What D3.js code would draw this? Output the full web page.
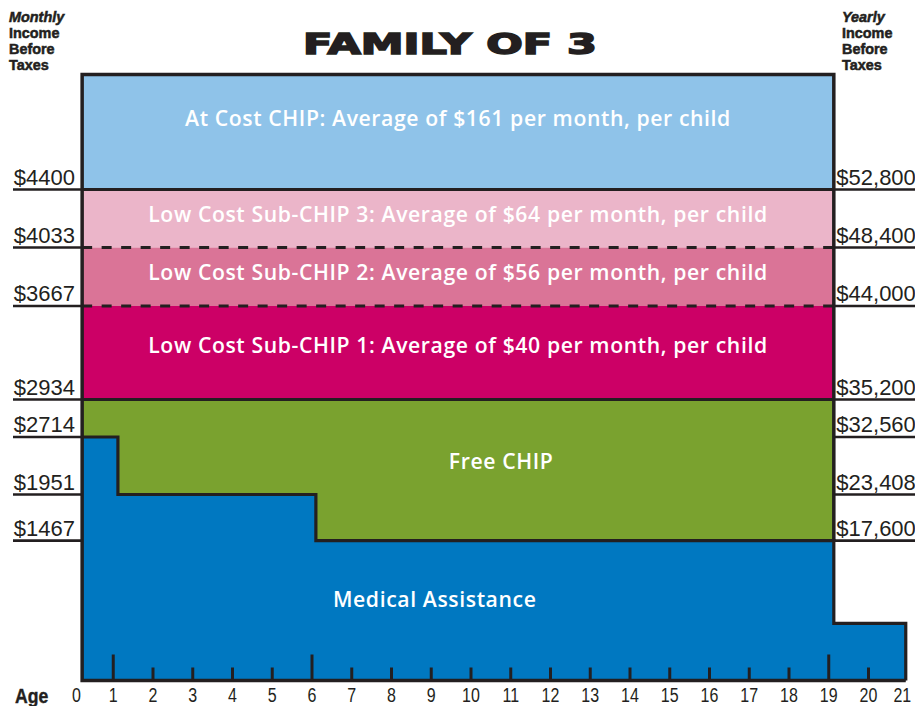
<!DOCTYPE html>
<html><head><meta charset="utf-8">
<script src="https://cdn.jsdelivr.net/npm/d3@7"></script>
<style>body{margin:0;background:#fff} svg{display:block}</style>
</head><body>
<svg id="c" width="915" height="706"></svg>
<script>
// ---------- data ----------
const title = "FAMILY OF 3";
const ageTicks = d3.range(0, 22);
const longTickAges = [1, 6, 19];
const monthlyValues = [4400, 4033, 3667, 2934, 2714, 1951, 1467];
const monthlyLabels = ["$4400", "$4033", "$3667", "$2934", "$2714", "$1951", "$1467"];
const yearlyLabels = ["$52,800", "$48,400", "$44,000", "$35,200", "$32,560", "$23,408", "$17,600"];

const bandText = [
  "At Cost CHIP: Average of $161 per month, per child",
  "Low Cost Sub-CHIP 3: Average of $64 per month, per child",
  "Low Cost Sub-CHIP 2: Average of $56 per month, per child",
  "Low Cost Sub-CHIP 1: Average of $40 per month, per child"
];
const bandHigh = [5100, 4400, 4033, 3667];
const bandLow = [4400, 4033, 3667, 2934];
const bandLabelIncome = [4788, 4194, 3830, 3299];

const chipStartAge = 0.23, chipEndAge = 19.14;
const freeChipTop = 2934;
const medAges = [0.23, 1.13, 6.11, 19.14, 20.95];
const medLimits = [2714, 1951, 1467, 600, 600];
const freeLabel = {text: "Free CHIP", age: 10.77, income: 2289};
const medLabel = {text: "Medical Assistance", age: 9.1, income: 768};
const leftHead = ["Monthly", "Income", "Before", "Taxes"];
const rightHead = ["Yearly", "Income", "Before", "Taxes"];

// ---------- layout / style ----------
const W = 915, H = 706;
const dark = "#231f20";
const bandColors = ["#8fc3e9", "#ebb5c9", "#da7497", "#cc0066"];
const bandBottomDashed = [false, true, true, false];
const green = "#7aa22f", blue = "#0078c1";
const yDomain = [0, 1951, 2714, 2934, 3667, 4033, 4400, 5100];
const yRange = [680.5, 494.5, 437, 399.5, 306, 247.5, 189.5, 74.5];
const condense = 0.8;

const svg = d3.select("#c");
const x = d3.scaleLinear().domain([0, 21]).range([73, 907.75]);
const y = d3.scaleLinear().domain(yDomain).range(yRange);

const x0 = x(chipStartAge), x1 = x(chipEndAge);

// bands
svg.append("g").selectAll("rect").data(bandText).join("rect")
  .attr("x", x0).attr("width", x1 - x0)
  .attr("y", (d, i) => y(bandHigh[i]))
  .attr("height", (d, i) => y(bandLow[i]) - y(bandHigh[i]))
  .attr("fill", (d, i) => bandColors[i]);

// free CHIP
svg.append("rect").attr("x", x0).attr("width", x1 - x0)
  .attr("y", y(freeChipTop)).attr("height", y(0) - y(freeChipTop))
  .attr("fill", green);

// medical assistance area
const medPts = medAges.map((a, i) => [a, medLimits[i]]);
svg.append("path").datum(medPts)
  .attr("d", d3.area().x(d => x(d[0])).y1(d => y(d[1])).y0(y(0)).curve(d3.curveStepAfter))
  .attr("fill", blue);

// separators across bands
svg.append("g").selectAll("line").data(bandLow).join("line")
  .attr("x1", x0).attr("x2", x1)
  .attr("y1", d => y(d)).attr("y2", d => y(d))
  .attr("stroke", dark).attr("stroke-width", 3)
  .attr("stroke-dasharray", (d, i) => bandBottomDashed[i] ? "10,9.5" : null);

// medical outline
const outlinePts = medPts.concat([[medAges[medAges.length - 1], 0]]);
svg.append("path").datum(outlinePts)
  .attr("d", d3.line().x(d => x(d[0])).y(d => y(d[1])).curve(d3.curveStepAfter))
  .attr("fill", "none").attr("stroke", dark).attr("stroke-width", 3.2)
  .attr("stroke-linejoin", "miter");

// frame: top, left, right, bottom
const frame = d3.path();
frame.moveTo(x1, y(1467)); frame.lineTo(x1, y(bandHigh[0]));
frame.lineTo(x0, y(bandHigh[0])); frame.lineTo(x0, y(0));
frame.lineTo(x(medAges[medAges.length - 1]), y(0));
svg.append("path").attr("d", frame.toString())
  .attr("fill", "none").attr("stroke", dark).attr("stroke-width", 3.5)
  .attr("stroke-linejoin", "miter");

// label underlines
svg.append("g").selectAll("line").data(monthlyValues).join("line")
  .attr("x1", 13).attr("x2", x0).attr("y1", d => y(d)).attr("y2", d => y(d))
  .attr("stroke", dark).attr("stroke-width", 2.6);
svg.append("g").selectAll("line").data(monthlyValues).join("line")
  .attr("x1", x1).attr("x2", W).attr("y1", d => y(d)).attr("y2", d => y(d))
  .attr("stroke", dark).attr("stroke-width", 2.6);

// value labels
const valueFont = "'Liberation Sans', Arial, sans-serif";
svg.append("g").selectAll("text").data(monthlyLabels).join("text")
  .attr("x", 75).attr("y", (d, i) => y(monthlyValues[i]) - 5)
  .attr("text-anchor", "end").attr("font-family", valueFont).attr("font-size", 22)
  .attr("fill", dark).text(d => d);
svg.append("g").selectAll("text").data(yearlyLabels).join("text")
  .attr("x", x1 + 2.5).attr("y", (d, i) => y(monthlyValues[i]) - 5)
  .attr("text-anchor", "start").attr("font-family", valueFont).attr("font-size", 22)
  .attr("fill", dark).text(d => d);

// axis
const axis = d3.axisBottom(x).tickValues(ageTicks).tickSizeInner(-13).tickSizeOuter(0).tickPadding(9);
const ag = svg.append("g").attr("transform", `translate(0,${y(0)})`).call(axis);
ag.select(".domain").remove();
ag.selectAll(".tick line")
  .attr("stroke", dark).attr("stroke-width", 3)
  .attr("y2", d => longTickAges.includes(d) ? -26 : -13)
  .attr("display", d => (d === 0 || d === 21) ? "none" : null);
ag.selectAll(".tick text")
  .attr("font-family", valueFont).attr("font-size", 20).attr("fill", dark)
  .attr("dy", null).attr("y", 0)
  .attr("text-anchor", d => d === 21 ? "end" : "middle")
  .attr("transform", d => `translate(${d === 21 ? 3 : (d === 0 ? 3 : 0)},21.5) scale(${condense},1)`);
svg.append("text")
  .attr("transform", `translate(15,${y(0) + 22}) scale(0.84,1)`)
  .attr("font-family", valueFont).attr("font-weight", "bold").attr("font-size", 21)
  .attr("fill", dark).attr("stroke", dark).attr("stroke-width", 0.4).text("Age");

// headers
function head(lines, hx) {
  svg.append("g").selectAll("text").data(lines).join("text")
    .attr("transform", (d, i) => `translate(${hx},${22 + i * 16}) scale(0.93,1)`)
    .attr("font-family", valueFont).attr("font-weight", "bold").attr("font-size", 15.5)
    .attr("font-style", (d, i) => i === 0 ? "italic" : "normal")
    .attr("fill", dark).attr("stroke", dark).attr("stroke-width", 0.55)
    .text(d => d);
}
head(leftHead, 9);
head(rightHead, 842);

// title
svg.append("text").attr("x", 450).attr("y", 53.5).attr("text-anchor", "middle")
  .attr("font-family", "'DejaVu Sans', sans-serif").attr("font-weight", "bold")
  .attr("font-size", 29).attr("textLength", 294).attr("lengthAdjust", "spacingAndGlyphs")
  .attr("fill", dark).attr("stroke", dark).attr("stroke-width", 1.6)
  .text(title);

// band labels
const labFont = "'Open Sans', 'Noto Sans', sans-serif";
const xc = (x0 + x1) / 2;
function label(sel) {
  return sel.attr("text-anchor", "middle").attr("font-family", labFont)
    .attr("font-weight", 600).attr("font-size", 21.2)
    .attr("letter-spacing", 0.6).attr("fill", "#fff");
}
label(svg.append("g").selectAll("text").data(bandText).join("text")
  .attr("x", xc).attr("y", (d, i) => y(bandLabelIncome[i])).text(d => d));
[freeLabel, medLabel].forEach(l => {
  label(svg.append("text").attr("x", x(l.age)).attr("y", y(l.income)).text(l.text));
});
</script></body></html>
